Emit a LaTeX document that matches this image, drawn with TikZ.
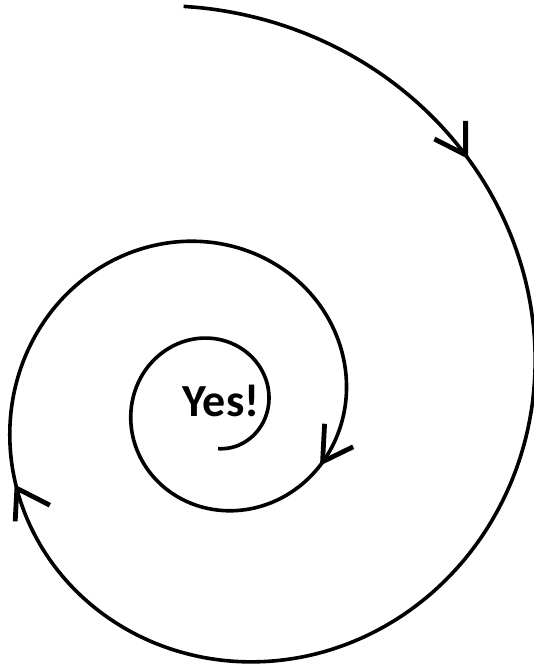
\documentclass[tikz,border=0pt]{standalone}
\usepackage{fontspec}
\setmainfont{Carlito}
\usetikzlibrary{calc}
\begin{document}
\begin{tikzpicture}[x=1pt,y=-1pt,
  spiral/.style={line width=3.6pt, line cap=butt},
  chev/.style={line width=4.8pt, line join=miter},
  lbl/.style={font=\bfseries\fontsize{46}{52}\selectfont, inner sep=0pt}]
\useasboundingbox (0,0) rectangle (533,666);
\draw[spiral] plot[domain=-94.5:806, samples=400, smooth, variable=\t]
  ({215+317*exp(-0.0024767*\t)*cos(\t)}, {405.5+317*exp(-0.0024767*\t)*sin(\t)});
\coordinate (t1) at (465.6,154.9);
\coordinate (t2) at (322.6,461.7);
\coordinate (t3) at (16.9,488.4);
\draw[chev] ($(t1)+(-90:34)$) -- (t1) -- ($(t1)+(-153:35)$);
\draw[chev] ($(t2)+(-87:38)$) -- (t2) -- ($(t2)+(-26:34)$);
\draw[chev] ($(t3)+(93:33)$) -- (t3) -- ($(t3)+(27:37)$);
\node[lbl] (yes) at (221,401) {Yes!};
\end{tikzpicture}
\end{document}
